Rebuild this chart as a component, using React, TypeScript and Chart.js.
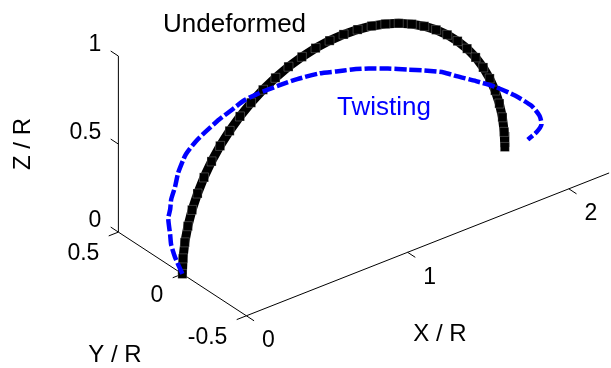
import React, { useEffect, useRef } from "react";
import { Chart, registerables } from "chart.js";

Chart.register(...registerables);

// ---- Data (normalised by ring radius R) ----
// Undeformed ring: half circle in the y = 0 plane
const undeformedX = [
  0, 0.004, 0.015, 0.034, 0.06, 0.094, 0.134, 0.181, 0.234, 0.293, 0.357, 0.426, 0.5,
  0.577, 0.658, 0.741, 0.826, 0.913, 1.0, 1.087, 1.174, 1.259, 1.342, 1.423, 1.5,
  1.574, 1.643, 1.707, 1.766, 1.819, 1.866, 1.906, 1.94, 1.966, 1.985, 1.996, 2.0,
];
const undeformedY = [
  0, 0, 0, 0, 0, 0, 0, 0, 0, 0, 0, 0, 0, 0, 0, 0, 0, 0, 0, 0, 0, 0, 0, 0, 0, 0, 0, 0, 0,
  0, 0, 0, 0, 0, 0, 0, 0,
];
const undeformedZ = [
  0, 0.087, 0.174, 0.259, 0.342, 0.423, 0.5, 0.574, 0.643, 0.707, 0.766, 0.819, 0.866,
  0.906, 0.94, 0.966, 0.985, 0.996, 1.0, 0.996, 0.985, 0.966, 0.94, 0.906, 0.866, 0.819,
  0.766, 0.707, 0.643, 0.574, 0.5, 0.423, 0.342, 0.259, 0.174, 0.087, 0,
];

// Twisted ring
const twistX = [
  0, -0.03, -0.038, -0.036, -0.032, -0.012, 0.002, 0.034, 0.06, 0.098, 0.117, 0.185,
  0.246, 0.331, 0.401, 0.472, 0.549, 0.654, 0.76, 0.883, 0.97, 1.052, 1.139, 1.244,
  1.349, 1.437, 1.542, 1.613, 1.726, 1.839, 1.96, 2.064, 2.12, 2.14, 2.118, 2.079,
];
const twistY = [
  0, 0.02, 0.04, 0.05, 0.07, 0.08, 0.09, 0.1, 0.11, 0.12, 0.12, 0.13, 0.13, 0.13, 0.12,
  0.11, 0.1, 0.08, 0.06, 0.04, 0.02, 0, -0.02, -0.04, -0.06, -0.08, -0.1, -0.11, -0.12,
  -0.13, -0.13, -0.13, -0.12, -0.11, -0.1, -0.08,
];
const twistZ = [
  0, 0.097, 0.161, 0.211, 0.293, 0.335, 0.38, 0.435, 0.497, 0.55, 0.581, 0.623, 0.656,
  0.696, 0.73, 0.764, 0.779, 0.794, 0.804, 0.802, 0.791, 0.782, 0.766, 0.737, 0.703,
  0.676, 0.636, 0.594, 0.53, 0.461, 0.368, 0.271, 0.191, 0.13, 0.09, 0.051,
];

// Axes
const xTicks = [0, 1, 2];
const yTicks = [-0.5, 0, 0.5];
const zTicks = [0, 0.5, 1];
const xTickLabels = ["0", "1", "2"];
const yTickLabels = ["-0.5", "0", "0.5"];
const zTickLabels = ["0", "0.5", "1"];
const xLimits = [0, 2.25];
const yLimits = [-0.5, 0.5];
const zLimits = [0, 1];
const axisTitles = { x: "X / R", y: "Y / R", z: "Z / R" };
const seriesNames = ["Undeformed", "Twisting"];

// ---- 3D view (oblique projection onto screen units) ----
const VIEW = { ou: 179.5, ov: 277.5, xu: 165, xv: -66, yu: -131, yv: -87, zv: -183 };
function project(x: number, y: number, z: number) {
  return {
    x: VIEW.ou + VIEW.xu * x + VIEW.yu * y,
    y: VIEW.ov + VIEW.xv * x + VIEW.yv * y + VIEW.zv * z,
  };
}
function toPoints(xs: number[], ys: number[], zs: number[]) {
  return xs.map((x, i) => project(x, ys[i], zs[i]));
}

const FONT = 'Arial, "Liberation Sans", Helvetica, sans-serif';
const TICK_LEN = 0.06;

const axes3dPlugin = {
  id: "axes3d",
  beforeDatasetsDraw(chart: any) {
    const ctx = chart.ctx as CanvasRenderingContext2D;
    const sx = chart.scales.x;
    const sy = chart.scales.y;
    const P = (x: number, y: number, z: number) => {
      const p = project(x, y, z);
      return [sx.getPixelForValue(p.x), sy.getPixelForValue(p.y)];
    };
    const seg = (a: number[], b: number[]) => {
      ctx.beginPath();
      ctx.moveTo(a[0], a[1]);
      ctx.lineTo(b[0], b[1]);
      ctx.stroke();
    };
    const [x0, x1] = xLimits;
    const [y0, y1] = yLimits;
    const [z0, z1] = zLimits;
    ctx.save();
    ctx.strokeStyle = "#000";
    ctx.lineWidth = 1;
    // axis lines
    seg(P(x0, y1, z0), P(x0, y1, z1)); // z
    seg(P(x0, y1, z0), P(x0, y0, z0)); // y
    seg(P(x0, y0, z0), P(x1, y0, z0)); // x
    // ticks
    zTicks.forEach((z) => seg(P(x0, y1, z), P(x0, y1 + TICK_LEN, z)));
    yTicks.forEach((y) => seg(P(x0, y, z0), P(x0 - TICK_LEN, y, z0)));
    xTicks.forEach((x) => seg(P(x, y0, z0), P(x, y0 - TICK_LEN, z0)));

    // tick labels
    ctx.fillStyle = "#000";
    ctx.font = `23px ${FONT}`;
    ctx.textBaseline = "middle";
    ctx.textAlign = "right";
    zTicks.forEach((z, i) => {
      const p = P(x0, y1, z);
      ctx.fillText(zTickLabels[i], p[0] - 17, p[1] - 11);
    });
    yTicks.forEach((y, i) => {
      const p = P(x0, y, z0);
      ctx.fillText(yTickLabels[i], p[0] - 19, p[1] + 22);
    });
    ctx.textAlign = "center";
    xTicks.forEach((x, i) => {
      const p = P(x, y0, z0);
      ctx.fillText(xTickLabels[i], p[0] + 22, p[1] + 25);
    });

    // axis titles
    ctx.font = `24px ${FONT}`;
    ctx.textAlign = "center";
    ctx.fillText(axisTitles.x, 440, 334);
    ctx.fillText(axisTitles.y, 115, 355);
    ctx.save();
    ctx.translate(23, 144);
    ctx.rotate(-Math.PI / 2);
    ctx.fillText(axisTitles.z, 0, 0);
    ctx.restore();
    ctx.restore();
  },
  afterDatasetsDraw(chart: any) {
    const ctx = chart.ctx as CanvasRenderingContext2D;
    ctx.save();
    ctx.font = `26px ${FONT}`;
    ctx.textBaseline = "alphabetic";
    ctx.textAlign = "left";
    ctx.fillStyle = "#000";
    ctx.fillText(seriesNames[0], 163, 32);
    ctx.fillStyle = "#0000ff";
    ctx.fillText(seriesNames[1], 337, 115);
    ctx.restore();
  },
};

export default function App() {
  const canvasRef = useRef<HTMLCanvasElement | null>(null);

  useEffect(() => {
    document.body.style.margin = "0";
    const canvas = canvasRef.current;
    if (!canvas) return;
    const chart = new Chart(canvas, {
      type: "scatter",
      data: {
        datasets: [
          {
            label: seriesNames[1],
            data: toPoints(twistX, twistY, twistZ),
            showLine: true,
            borderColor: "#0000ff",
            borderWidth: 4.5,
            borderDash: [12, 3],
            borderCapStyle: "butt",
            pointRadius: 0,
            tension: 0.2,
          },
          {
            label: seriesNames[0],
            data: toPoints(undeformedX, undeformedY, undeformedZ),
            showLine: true,
            borderColor: "#000",
            borderWidth: 9,
            borderCapStyle: "butt",
            pointStyle: "rect",
            pointRadius: 6.4,
            pointBackgroundColor: "#000",
            pointBorderColor: "rgba(255,255,255,0.4)",
            pointBorderWidth: 0.6,
            tension: 0,
          },
        ],
      },
      options: {
        animation: false,
        responsive: false,
        layout: { padding: 0 },
        plugins: { legend: { display: false }, tooltip: { enabled: false } },
        events: [],
        scales: {
          x: { type: "linear", display: false, min: 0, max: 611 },
          y: { type: "linear", display: false, min: 0, max: 368, reverse: true },
        },
      },
      plugins: [axes3dPlugin],
    });
    return () => chart.destroy();
  }, []);

  return (
    <div style={{ position: "fixed", left: 0, top: 0, width: 611, height: 368, background: "#fff" }}>
      <canvas ref={canvasRef} width={611} height={368} style={{ display: "block" }} />
    </div>
  );
}
